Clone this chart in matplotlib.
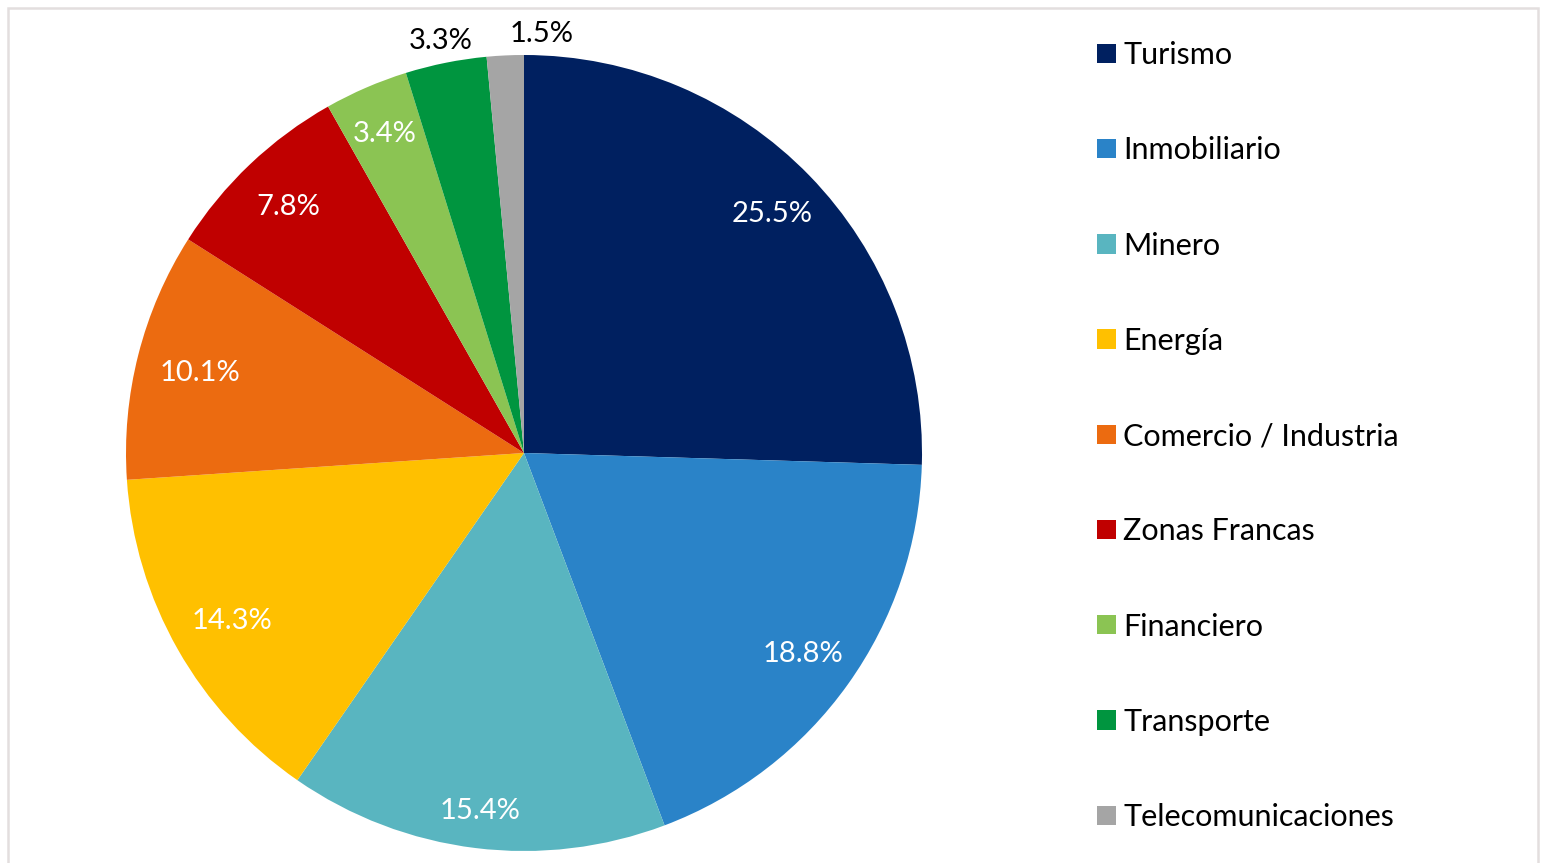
import numpy as np
import matplotlib.pyplot as plt
from matplotlib.patches import Rectangle, Patch

plt.rcParams['font.family'] = ['Lato', 'DejaVu Sans']

# data
sectores = ["Turismo", "Inmobiliario", "Minero", "Energía", "Comercio / Industria",
            "Zonas Francas", "Financiero", "Transporte", "Telecomunicaciones"]
valores = [25.5, 18.8, 15.4, 14.3, 10.1, 7.8, 3.4, 3.3, 1.5]
colores = ["#002060", "#2A83C8", "#59B5C0", "#FFC000", "#EC6B10",
           "#C00000", "#8BC453", "#00953F", "#A5A5A5"]

W, H = 1541, 863
fig = plt.figure(figsize=(W / 100, H / 100), dpi=100)

# chart frame (runs off the bottom of the image)
fig.patches.append(Rectangle((8 / W, -0.05), 1530 / W, 1.05 - 8 / H,
                             transform=fig.transFigure, fill=False,
                             edgecolor="#E3DEDE", linewidth=1.8))

cx, cy, r = 524, 453, 398
ax = fig.add_axes([(cx - r) / W, (H - cy - r) / H, 2 * r / W, 2 * r / H])
wedges, _ = ax.pie(valores, colors=colores, startangle=90, counterclock=False,
                   radius=1, wedgeprops=dict(linewidth=0))
ax.set_xlim(-1, 1)
ax.set_ylim(-1, 1)
ax.set_aspect("equal")
ax.axis("off")

# labels: inside ones in white, the two smallest outside in black
dist = [0.87, 0.86, 0.90, 0.845, 0.84, 0.86, 0.88, 1.06, 1.06]
shift = [0, 0, 0, 0, 0, 0, 0, 0, 27]
for w, v, d, s in zip(wedges, valores, dist, shift):
    ang = np.deg2rad((w.theta1 + w.theta2) / 2)
    col = "black" if d > 1 else "white"
    ax.annotate(f"{v:.1f}%", (d * np.cos(ang), d * np.sin(ang)),
                xytext=(s, -1.5), textcoords="offset points",
                ha="center", va="center", fontsize=21, color=col,
                annotation_clip=False)

handles = [Patch(facecolor=c, edgecolor="none") for c in colores]
fig.legend(handles, sectores, loc="upper left", bbox_to_anchor=(1085 / W, 1 - 29 / H),
           frameon=False, fontsize=22, labelspacing=2.2, handlelength=0.6,
           handleheight=0.6, handletextpad=0.25, borderaxespad=0)

fig.savefig("out.png", dpi=100)
